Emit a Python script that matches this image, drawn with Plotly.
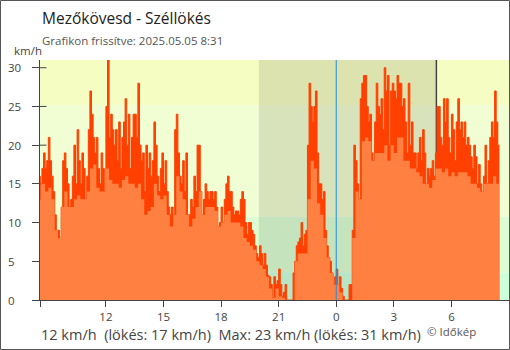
import pandas as pd
import plotly.graph_objects as go

# ---- data ----
# gust, 5-minute steps from 2025-05-04 08:30, one row per hour
gust_h08 = [16, 13, 17, 19, 17, 18, 21, 18, 16, 14, 11, 9]
gust_h09 = [9, 8, 12, 18, 19, 17, 15, 12, 13, 16, 20, 15]
gust_h10 = [22, 18, 15, 19, 17, 13, 16, 22, 27, 24, 21, 19]
gust_h11 = [21, 17, 15, 19, 17, 14, 25, 31, 21, 24, 22, 20]
gust_h12 = [22, 18, 23, 17, 21, 23, 26, 20, 24, 17, 21, 24]
gust_h13 = [24, 21, 28, 20, 18, 19, 14, 20, 17, 19, 16, 18]
gust_h14 = [23, 20, 16, 14, 17, 19, 15, 18, 14, 12, 11, 12]
gust_h15 = [11, 22, 24, 19, 16, 15, 18, 14, 19, 11, 11, 13]
gust_h16 = [12, 16, 14, 20, 20, 14, 11, 13, 15, 14, 13, 14]
gust_h17 = [14, 13, 14, 12, 9.5, 10, 12, 10, 13, 15, 16, 14]
gust_h18 = [14, 12, 11, 11.5, 11.5, 11, 13, 14, 13, 10, 8.5, 10]
gust_h19 = [10, 9, 8.5, 7, 6, 5.5, 7, 6, 4.5, 6, 4.5, 3.2]
gust_h20 = [3, 2, 0.3, 3, 2, 2.5, 4, 2, 0.5, 1, 2, 0]
gust_h21 = [0, 0, 0, 3.5, 5, 7, 7.5, 8, 10, 7, 8.5, 9]
gust_h22 = [20, 28, 25, 23, 25, 27, 19, 15, 15, 13, 14, 9]
gust_h23 = [7, 5.5, 5, 3.5, 2, 3, 4, 2, 3, 1.5, 0.5, 0]
gust_h00 = [0, 0, 2, 2, 9, 20, 18, 15, 13, 26, 28, 29]
gust_h01 = [29, 25, 23, 24, 19, 18, 23, 28, 25, 24, 26, 22]
gust_h02 = [30, 27, 29, 20, 27, 28, 27, 26, 29, 28, 28, 25]
gust_h03 = [26, 23, 19, 28, 20, 23, 19, 19, 17, 19, 21, 18]
gust_h04 = [22, 19, 15, 17, 16, 17, 18, 16, 19, 25, 25, 21]
gust_h05 = [20, 26, 23, 26, 21, 19, 24, 22, 18, 23, 26, 22]
gust_h06 = [23, 21, 23, 20, 21, 20, 18.5, 17, 20, 18.5, 15, 17.5]
gust_h07 = [15, 14, 16, 20, 15, 18, 21, 23, 21, 27, 23, 20]
gust_last = [20]

# mean wind, 10-minute steps from 2025-05-04 08:30
mean_h08 = [13, 15, 14, 14.5, 13, 9]
mean_h09 = [8, 12, 14, 12, 12, 13]
mean_h10 = [13.5, 13, 13, 14, 17, 17.5]
mean_h11 = [14.5, 14, 14, 17, 15.5, 15]
mean_h12 = [15, 14.5, 15.5, 16, 15, 15]
mean_h13 = [14.5, 15, 13, 11, 11.5, 12]
mean_h14 = [15, 13.5, 13, 13.5, 11, 9.5]
mean_h15 = [11, 16, 14, 13, 11, 9.5]
mean_h16 = [10.5, 12, 14, 11, 12, 12]
mean_h17 = [12, 11.5, 9.5, 10, 11, 11.5]
mean_h18 = [10, 10, 10, 9.5, 8, 7.5]
mean_h19 = [7, 6.5, 5, 4.5, 4, 3]
mean_h20 = [1.5, 0.3, 1.5, 0.5, 0.3, 0]
mean_h21 = [0, 0, 5, 6, 6, 6]
mean_h22 = [13, 18, 17, 12.5, 11, 8]
mean_h23 = [5.5, 3.5, 2, 2, 1, 0]
mean_h00 = [0, 0, 8, 14, 13, 20.5]
mean_h01 = [21, 20.5, 18, 19, 19, 19]
mean_h02 = [20, 18, 20, 19, 21, 21]
mean_h03 = [18, 18, 17, 17, 16.5, 16]
mean_h04 = [15, 15, 14.5, 15.5, 17, 17]
mean_h05 = [16.5, 17, 16, 16.5, 16, 16.5]
mean_h06 = [16.5, 16.5, 16, 15, 15, 14.5]
mean_h07 = [14, 15, 15, 15, 16, 15]
mean_last = [15]

x_tick_vals = ["2025-05-04 08:34", "2025-05-04 12:00", "2025-05-04 15:00", "2025-05-04 18:00",
               "2025-05-04 21:00", "2025-05-05 00:00", "2025-05-05 03:00", "2025-05-05 06:00",
               "2025-05-05 09:00"]
x_tick_text = ["", "12", "15", "18", "21", "0", "3", "6", "9"]
y_tick_vals = [0, 5, 10, 15, 20, 25, 30]
band_edges = [0, 3.6, 10.8, 25.2, 31]
band_colors = ["#ccffdc", "#dcfdd2", "#f1fdd2", "#f6fdc3"]
night_start = "2025-05-04 19:58"
night_end = "2025-05-05 05:13"
midnight = "2025-05-05 00:00"
x_range = ["2025-05-04 08:34", "2025-05-05 09:00"]

gust = (gust_h08 + gust_h09 + gust_h10 + gust_h11 + gust_h12 + gust_h13 + gust_h14 + gust_h15
        + gust_h16 + gust_h17 + gust_h18 + gust_h19 + gust_h20 + gust_h21 + gust_h22 + gust_h23
        + gust_h00 + gust_h01 + gust_h02 + gust_h03 + gust_h04 + gust_h05 + gust_h06 + gust_h07
        + gust_last)
mean = (mean_h08 + mean_h09 + mean_h10 + mean_h11 + mean_h12 + mean_h13 + mean_h14 + mean_h15
        + mean_h16 + mean_h17 + mean_h18 + mean_h19 + mean_h20 + mean_h21 + mean_h22 + mean_h23
        + mean_h00 + mean_h01 + mean_h02 + mean_h03 + mean_h04 + mean_h05 + mean_h06 + mean_h07
        + mean_last)
gust_t = pd.date_range("2025-05-04 08:30", periods=len(gust), freq="5min")
mean_t = pd.date_range("2025-05-04 08:30", periods=len(mean), freq="10min")

# ---- geometry helpers ----
W, H = 510, 350
L, R, T, B = 40, 1, 60, 50
PW, PH = W - L - R, H - T - B
def px(xp):
    return (xp - L) / PW
def py(yp):
    return (H - B - yp) / PH

FONT = "Open Sans"

fig = go.Figure()
fig.add_trace(go.Scatter(x=gust_t, y=gust, mode="lines", line=dict(color="#ff4000", width=1, shape="hv"),
                         fill="tozeroy", fillcolor="#ff4000", hoverinfo="skip", showlegend=False))
fig.add_trace(go.Scatter(x=mean_t, y=mean, mode="lines", line=dict(color="#ff8040", width=0, shape="hv"),
                         fill="tozeroy", fillcolor="#ff8040", hoverinfo="skip", showlegend=False))

shapes = []
for i, c in enumerate(band_colors):
    shapes.append(dict(type="rect", xref="paper", yref="y", x0=0, x1=1, y0=band_edges[i], y1=band_edges[i + 1],
                       fillcolor=c, line=dict(width=0), layer="below"))
shapes.append(dict(type="rect", xref="x", yref="paper", x0=night_start, x1=night_end, y0=0, y1=1,
                   fillcolor="rgba(0,0,0,0.1)", line=dict(width=0), layer="below"))
shapes.append(dict(type="line", xref="x", yref="paper", x0=night_end, x1=night_end, y0=0, y1=1,
                   line=dict(color="#444", width=1.5), layer="below"))
for v in y_tick_vals:
    shapes.append(dict(type="line", xref="paper", yref="y", x0=0, x1=px(L + 6.5), y0=v, y1=v,
                       line=dict(color="#444", width=1), layer="below"))
shapes.append(dict(type="line", xref="x", yref="paper", x0=midnight, x1=midnight, y0=0, y1=1,
                   line=dict(color="#1e8fdc", width=1), layer="above"))
# outer frame
shapes.append(dict(type="rect", xref="paper", yref="paper", x0=px(0.5), x1=px(W - 0.5), y0=py(H - 0.5), y1=py(0.5),
                   line=dict(color="#555", width=1), fillcolor="rgba(0,0,0,0)", layer="above"))

ann = []
ann.append(dict(text="Mezőkövesd - Széllökés", x=px(40), y=py(18), xref="paper", yref="paper",
                xanchor="left", yanchor="middle", showarrow=False, font=dict(family=FONT, size=15.5, color="#222")))
ann.append(dict(text="Grafikon frissítve: 2025.05.05 8:31", x=px(40), y=py(40), xref="paper", yref="paper",
                xanchor="left", yanchor="middle", showarrow=False, font=dict(family=FONT, size=11.5, color="#555")))
ann.append(dict(text="km/h", x=px(12), y=py(51), xref="paper", yref="paper",
                xanchor="left", yanchor="middle", showarrow=False, font=dict(family=FONT, size=11.5, color="#444")))
for v in y_tick_vals:
    ann.append(dict(text=str(v), x=px(6), y=v, xref="paper", yref="y", xanchor="left", yanchor="middle",
                    showarrow=False, font=dict(family=FONT, size=11.5, color="#444")))
ann.append(dict(text="12 km/h  (lökés: 17 km/h)  Max: 23 km/h (lökés: 31 km/h)", x=px(39), y=py(334),
                xref="paper", yref="paper", xanchor="left", yanchor="middle", showarrow=False,
                font=dict(family=FONT, size=14.5, color="#444")))
ann.append(dict(text="© Időkép", x=px(425), y=py(331), xref="paper", yref="paper", xanchor="left",
                yanchor="middle", showarrow=False, font=dict(family=FONT, size=11.5, color="#555")))

fig.update_layout(
    width=W, height=H, margin=dict(l=L, r=R, t=T, b=B),
    paper_bgcolor="white", plot_bgcolor="white",
    shapes=shapes, annotations=ann, showlegend=False,
    xaxis=dict(type="date", range=x_range, tickvals=x_tick_vals, ticktext=x_tick_text,
               showgrid=False, zeroline=False, showline=True, linecolor="#444", linewidth=1,
               ticks="outside", ticklen=6, tickcolor="#444",
               tickfont=dict(family=FONT, size=11.5, color="#444")),
    yaxis=dict(range=[0, 31], tickvals=y_tick_vals, showticklabels=False,
               showgrid=False, zeroline=False, showline=True, linecolor="#444", linewidth=1,
               ticks="outside", ticklen=7, tickcolor="#444"),
)
fig.write_html("out.html")
